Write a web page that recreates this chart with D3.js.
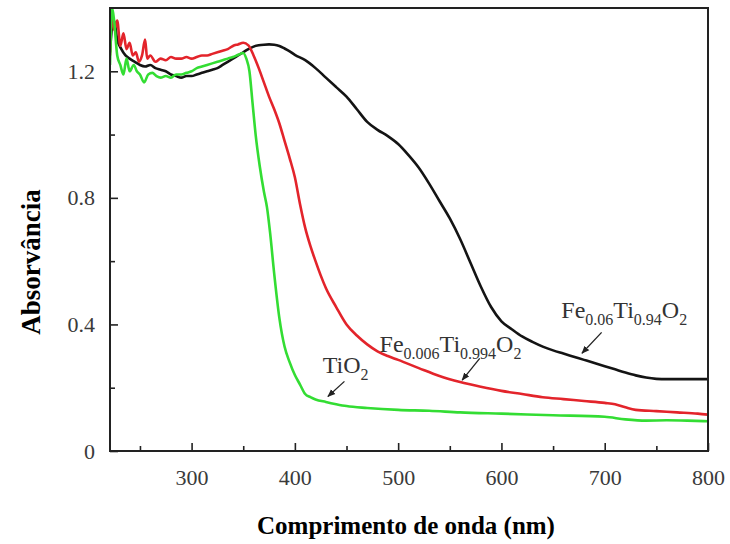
<!DOCTYPE html>
<html>
<head>
<meta charset="utf-8">
<script src="https://cdn.jsdelivr.net/npm/d3@7"></script>
<style>
  html, body { margin: 0; padding: 0; background: #fff; }
  svg { display: block; }
  text { font-family: "Liberation Serif", "Times New Roman", serif; }
</style>
</head>
<body>
<svg id="chart" width="730" height="544"></svg>
<script>
// UV-Vis absorbance spectra: wavelength (nm) vs absorbance
const seriesNames = ["Fe0.06Ti0.94O2", "Fe0.006Ti0.994O2", "TiO2"];
const seriesColors = ["#141414", "#e3242b", "#33dd33"];

const blackSpectrum = [
  [221,1.26],[223,1.34],[225,1.36],[228,1.30],[232,1.27],[236,1.25],[240,1.24],[245,1.23],[250,1.22],
  [255,1.215],[260,1.22],[265,1.21],[270,1.205],[275,1.20],[280,1.19],[285,1.185],[290,1.18],[295,1.185],
  [300,1.185],[305,1.19],[310,1.195],[315,1.20],[320,1.205],[325,1.21],[330,1.22],[335,1.23],[340,1.24],
  [345,1.25],[350,1.26],[355,1.27],[360,1.278],[365,1.282],[370,1.284],[375,1.285],[380,1.284],[385,1.28],
  [390,1.272],[395,1.263],[400,1.252],[410,1.235],[420,1.21],[430,1.18],[440,1.15],[450,1.12],[460,1.08],
  [470,1.04],[480,1.015],[490,0.995],[500,0.97],[510,0.935],[520,0.895],[530,0.845],[540,0.79],[550,0.735],
  [560,0.67],[570,0.595],[580,0.52],[590,0.455],[600,0.41],[610,0.385],[620,0.362],[630,0.345],[640,0.33],
  [650,0.318],[660,0.308],[670,0.298],[680,0.288],[690,0.278],[700,0.268],[710,0.258],[720,0.248],
  [730,0.239],[740,0.232],[750,0.228],[760,0.227],[780,0.227],[800,0.227]
];

const redSpectrum = [
  [221,1.25],[223,1.38],[225,1.33],[228,1.36],[231,1.28],[234,1.32],[237,1.27],[240,1.29],[243,1.25],
  [246,1.26],[249,1.23],[252,1.25],[255,1.30],[257,1.24],[260,1.25],[265,1.23],[270,1.24],[275,1.235],
  [280,1.245],[285,1.24],[290,1.24],[295,1.245],[300,1.24],[305,1.245],[310,1.25],[315,1.25],[320,1.255],
  [325,1.26],[330,1.265],[335,1.27],[340,1.28],[345,1.285],[350,1.29],[355,1.282],[360,1.25],[365,1.21],
  [370,1.165],[375,1.12],[380,1.08],[385,1.035],[390,0.98],[395,0.925],[400,0.865],[405,0.78],[410,0.705],
  [415,0.648],[420,0.60],[425,0.555],[430,0.515],[440,0.455],[450,0.40],[460,0.365],[470,0.337],[480,0.315],
  [490,0.30],[500,0.288],[520,0.262],[540,0.237],[560,0.218],[580,0.203],[600,0.19],[620,0.18],[640,0.17],
  [660,0.164],[680,0.158],[700,0.152],[710,0.148],[720,0.138],[730,0.13],[750,0.126],[770,0.122],
  [790,0.118],[800,0.115]
];

const greenSpectrum = [
  [221,1.22],[223,1.40],[225,1.36],[228,1.25],[231,1.22],[234,1.19],[237,1.24],[240,1.20],[244,1.22],
  [247,1.20],[250,1.19],[254,1.165],[258,1.19],[262,1.195],[266,1.185],[270,1.18],[275,1.185],[280,1.18],
  [285,1.19],[290,1.19],[295,1.195],[300,1.20],[305,1.21],[310,1.215],[315,1.22],[320,1.225],[325,1.23],
  [330,1.235],[335,1.24],[340,1.245],[345,1.252],[350,1.258],[353,1.24],[356,1.20],[359,1.10],[362,1.00],
  [366,0.90],[370,0.82],[373,0.77],[376,0.69],[380,0.56],[385,0.42],[390,0.33],[395,0.28],[400,0.24],
  [405,0.21],[410,0.18],[415,0.17],[420,0.163],[430,0.155],[440,0.148],[450,0.142],[470,0.136],[500,0.13],
  [530,0.127],[560,0.122],[600,0.118],[650,0.113],[700,0.108],[720,0.10],[740,0.096],[760,0.097],
  [780,0.096],[800,0.094]
];

const xTicksMajor = [300, 400, 500, 600, 700, 800];
const xTicksMinor = [250, 350, 450, 550, 650, 750];
const yTicksMajor = [0, 0.4, 0.8, 1.2];
const yTickLabels = ["0", "0.4", "0.8", "1.2"];
const yTicksMinor = [0.2, 0.6, 1.0];

// Chemical formula labels: [main, sub] pieces, anchor (nm, absorbance), arrow tail -> tip
const labelParts = [
  [["Fe","0.06"],["Ti","0.94"],["O","2"]],
  [["Fe","0.006"],["Ti","0.994"],["O","2"]],
  [["Ti",""],["O","2"]]
];
const labelAnchors = [[658, 0.419], [482, 0.312], [427, 0.246]];
const arrowTails = [[697, 0.375], [579, 0.293], [448, 0.22]];
const arrowTips = [[678, 0.309], [562, 0.224], [432, 0.172]];

const series = [blackSpectrum, redSpectrum, greenSpectrum];

const svg = d3.select("#chart");
const margin = { left: 110, right: 22, top: 8, bottom: 93 };
const W = 730, H = 544;

const x = d3.scaleLinear().domain([221, 800]).range([margin.left, W - margin.right]);
const y = d3.scaleLinear().domain([0, 1.4]).range([H - margin.bottom, margin.top]);

const defs = svg.append("defs");
defs.append("marker")
  .attr("id", "arrowhead")
  .attr("viewBox", "0 0 10 10")
  .attr("refX", 9).attr("refY", 5)
  .attr("markerWidth", 8).attr("markerHeight", 8)
  .attr("markerUnits", "userSpaceOnUse")
  .attr("orient", "auto")
  .append("path").attr("d", "M0,1 L10,5 L0,9 Z").attr("fill", "#222");

const clipId = "plotclip";
defs.append("clipPath").attr("id", clipId)
  .append("rect")
  .attr("x", x.range()[0]).attr("y", y.range()[1])
  .attr("width", x.range()[1] - x.range()[0])
  .attr("height", y.range()[0] - y.range()[1]);

// Spectra
const line = d3.line()
  .x(d => x(d[0]))
  .y(d => y(d[1]))
  .curve(d3.curveMonotoneX);

svg.append("g").attr("clip-path", `url(#${clipId})`)
  .selectAll("path")
  .data(series)
  .join("path")
  .attr("d", line)
  .attr("fill", "none")
  .attr("stroke", (d, i) => seriesColors[i])
  .attr("stroke-width", 2.6)
  .attr("stroke-linejoin", "round");

// Axes with inward ticks
const xMajor = d3.axisBottom(x).tickValues(xTicksMajor).tickSize(-8).tickPadding(18).tickFormat(d3.format("d"));
const xMinor = d3.axisBottom(x).tickValues(xTicksMinor).tickSize(-5).tickFormat("");
const yMajor = d3.axisLeft(y).tickValues(yTicksMajor).tickSize(-8).tickPadding(15)
  .tickFormat((d, i) => yTickLabels[i]);
const yMinor = d3.axisLeft(y).tickValues(yTicksMinor).tickSize(-5).tickFormat("");

function styleAxis(g) {
  g.select(".domain").remove();
  g.selectAll(".tick line").attr("stroke", "#222").attr("stroke-width", 1.6);
  g.selectAll(".tick text")
    .attr("font-family", '"Liberation Serif", "Times New Roman", serif')
    .attr("font-size", 22).attr("fill", "#3a3a3a");
}

svg.append("g").attr("transform", `translate(0,${y(0)})`).call(xMajor).call(styleAxis);
svg.append("g").attr("transform", `translate(0,${y(0)})`).call(xMinor).call(styleAxis);
svg.append("g").attr("transform", `translate(${x.range()[0]},0)`).call(yMajor).call(styleAxis);
svg.append("g").attr("transform", `translate(${x.range()[0]},0)`).call(yMinor).call(styleAxis);

// Frame
svg.append("rect")
  .attr("x", x.range()[0]).attr("y", y.range()[1])
  .attr("width", x.range()[1] - x.range()[0])
  .attr("height", y.range()[0] - y.range()[1])
  .attr("fill", "none").attr("stroke", "#222").attr("stroke-width", 2);

// Axis titles
svg.append("text")
  .attr("x", 406).attr("y", 534)
  .attr("text-anchor", "middle")
  .attr("font-size", 25).attr("font-weight", "bold").attr("fill", "#000")
  .text("Comprimento de onda (nm)");

svg.append("text")
  .attr("transform", `translate(40,262) rotate(-90)`)
  .attr("text-anchor", "middle")
  .attr("font-size", 27).attr("font-weight", "bold").attr("fill", "#000")
  .text("Absorvância");

// Formula labels with subscripts
const mainSize = 24, subSize = 16, subShift = 7;
labelParts.forEach((parts, i) => {
  const t = svg.append("text")
    .attr("x", x(labelAnchors[i][0]))
    .attr("y", y(labelAnchors[i][1]))
    .attr("font-size", mainSize)
    .attr("fill", "#333");
  let lowered = false;
  parts.forEach(([main, sub]) => {
    t.append("tspan").attr("dy", lowered ? -subShift : 0).text(main);
    lowered = false;
    if (sub) {
      t.append("tspan").attr("font-size", subSize).attr("dy", subShift).text(sub);
      lowered = true;
    }
  });
});

// Pointer arrows
svg.append("g").selectAll("line")
  .data(arrowTips)
  .join("line")
  .attr("x1", (d, i) => x(arrowTails[i][0]))
  .attr("y1", (d, i) => y(arrowTails[i][1]))
  .attr("x2", d => x(d[0]))
  .attr("y2", d => y(d[1]))
  .attr("stroke", "#222")
  .attr("stroke-width", 1.3)
  .attr("marker-end", "url(#arrowhead)");
</script>
</body>
</html>
